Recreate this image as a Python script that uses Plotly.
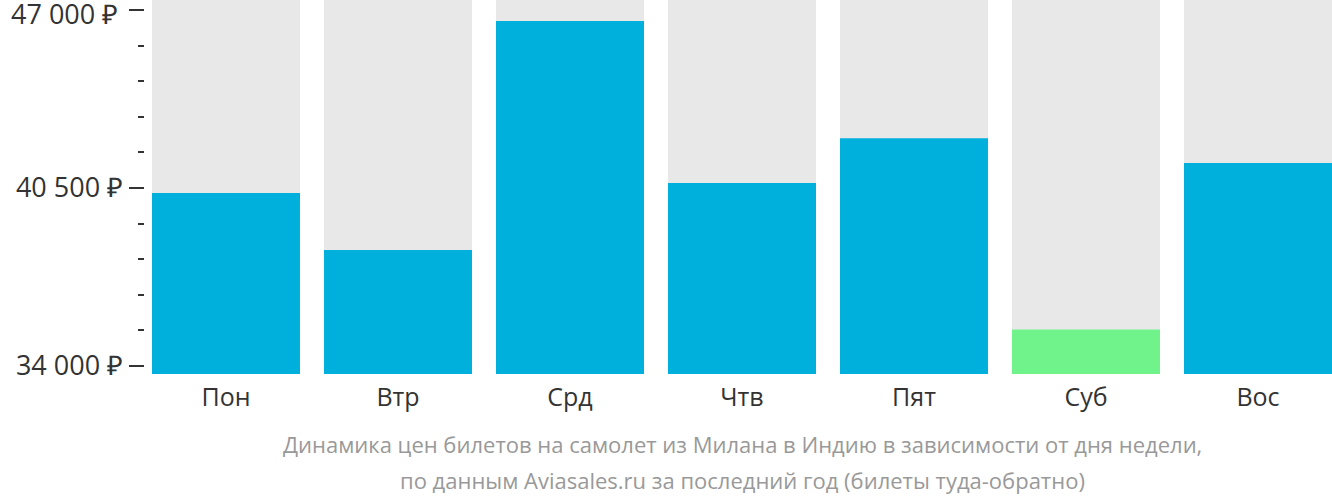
import plotly.graph_objects as go

days = ["Пон", "Втр", "Срд", "Чтв", "Пят", "Суб", "Вос"]
prices = [40320, 38240, 46600, 40680, 42320, 35330, 41410]
bar_colors = ["#00b0dc", "#00b0dc", "#00b0dc", "#00b0dc", "#00b0dc", "#6ff38a", "#00b0dc"]
tick_vals = [34000, 40500, 47000]
tick_text = ["34 000 ₽", "40 500 ₽", "47 000 ₽"]
caption = ["Динамика цен билетов на самолет из Милана в Индию в зависимости от дня недели,",
           "по данным Aviasales.ru за последний год (билеты туда-обратно)"]

y_min, y_max = 33708, 47365
W, H = 1332, 502
x_pos = list(range(len(days)))
bw = 148 / 172

fig = go.Figure()
fig.add_trace(go.Bar(x=x_pos, y=[y_max - y_min] * len(days), base=y_min, width=bw,
                     marker=dict(color="#e8e8e8", line=dict(width=0)), hoverinfo="skip"))
fig.add_trace(go.Bar(x=x_pos, y=[p - y_min for p in prices], base=y_min, width=bw,
                     marker=dict(color=bar_colors, line=dict(width=0))))

fig.update_layout(
    width=W, height=H, barmode="overlay", showlegend=False,
    plot_bgcolor="white", paper_bgcolor="white",
    margin=dict(l=0, r=0, t=0, b=128),
    font=dict(family="Open Sans", color="#333333"),
    xaxis=dict(domain=[152 / W, 1], range=[-bw / 2, 6 + bw / 2], tickvals=x_pos, ticktext=days,
               showgrid=False, zeroline=False, showline=False, ticks="outside", ticklen=1,
               tickcolor="rgba(0,0,0,0)", tickfont=dict(size=25), fixedrange=True, automargin=False),
    yaxis=dict(range=[y_min, y_max], anchor="free", position=143.5 / W, tickvals=tick_vals,
               ticktext=tick_text[:-1] + [""], ticks="outside", ticklen=15, tickwidth=2,
               tickcolor="#333333", automargin=False,
               minor=dict(dtick=1300, tick0=34000, ticks="outside", ticklen=6, tickwidth=2,
                          tickcolor="#333333", showgrid=False),
               showgrid=False, zeroline=False, showline=False, tickfont=dict(size=27),
               fixedrange=True),
)
# top tick label, nudged down so it stays inside the page (as in the reference)
fig.add_annotation(text=tick_text[-1], xref="paper", yref="y", x=120 / W, y=tick_vals[-1],
                   xanchor="right", yanchor="middle", yshift=-3, height=22, valign="middle",
                   showarrow=False, font=dict(size=27, color="#333333"))
for i, line in enumerate(caption):
    fig.add_annotation(text=line, xref="x domain", yref="paper", x=0.5, y=-(444 - 374) / 374 - i * 36 / 374,
                       yanchor="middle", xanchor="center", showarrow=False,
                       font=dict(size=22, color="#999999"))

fig.write_html("out.html")
